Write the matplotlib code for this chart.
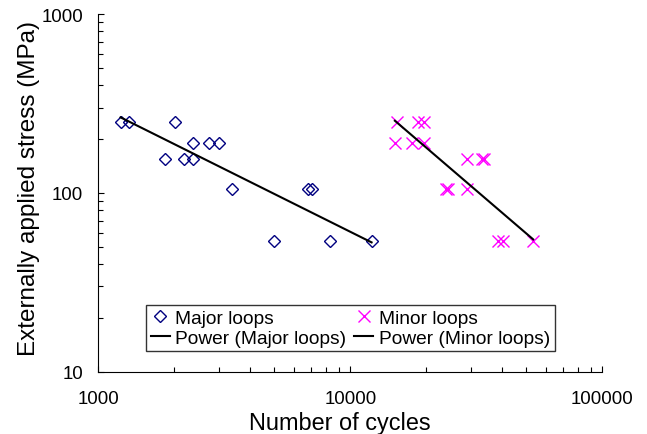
import matplotlib
matplotlib.use("Agg")
import matplotlib.pyplot as plt
import numpy as np

plt.rcParams["font.family"] = ["Liberation Sans", "DejaVu Sans"]

# Major loops: number of cycles vs stress (MPa)
major_cycles = [1225, 1325, 2010, 2365, 2750, 3000, 1835, 2185, 2365,
                3400, 6800, 7050, 4970, 8290, 12140]
major_stress = [250, 250, 250, 190, 190, 190, 155, 155, 155,
                105, 105, 105, 54, 54, 54]

# Minor loops
minor_cycles = [15340, 18480, 19570, 15020, 17490, 19570, 28920, 33170, 33960,
                23930, 24440, 29070, 38380, 40380, 53140]
minor_stress = [250, 250, 250, 190, 190, 190, 155, 155, 155,
                105, 105, 105, 54, 54, 54]


def power_fit(x, y):
    x = np.asarray(x, float)
    y = np.asarray(y, float)
    b, a = np.polyfit(np.log10(x), np.log10(y), 1)
    xs = np.array([x.min(), x.max()])
    return xs, 10 ** a * xs ** b


fig = plt.figure(figsize=(6.47, 4.35), dpi=100)
ax = fig.add_axes([0.152, 0.1432, 0.779, 0.8223])

ax.plot(major_cycles, major_stress, linestyle="none", marker="D", ms=5.8,
        mfc="none", mec="#000080", mew=1.0, label="Major loops")
fx, fy = power_fit(major_cycles, major_stress)
ax.plot(fx, fy, color="black", lw=1.5, label="Power (Major loops)")

ax.plot(minor_cycles, minor_stress, linestyle="none", marker="x", ms=9,
        mec="#FF00FF", mew=1.0, label="Minor loops")
fx, fy = power_fit(minor_cycles, minor_stress)
ax.plot(fx, fy, color="black", lw=1.5, label="Power (Minor loops)")

ax.set_xscale("log")
ax.set_yscale("log")
ax.set_xlim(1000, 100000)
ax.set_ylim(10, 1000)
ax.set_xticks([1000, 10000, 100000], ["1000", "10000", "100000"])
ax.set_yticks([10, 100, 1000], ["10", "100", "1000"])

for side in ["top", "right"]:
    ax.spines[side].set_visible(False)
ax.tick_params(which="both", direction="in", labelsize=13.4)
ax.tick_params(axis="x", which="both", pad=13)
ax.tick_params(axis="y", which="both", pad=11)
ax.tick_params(which="major", length=4.5, width=0.8)
ax.tick_params(which="minor", length=3.5, width=0.8)

ax.set_xlabel("Number of cycles", fontsize=16.9, labelpad=3)
ax.xaxis.label.set_x(0.479)
ax.set_ylabel("Externally applied stress (MPa)", fontsize=17.5, labelpad=1)
ax.yaxis.label.set_y(0.515)

leg = ax.legend(ncol=2, loc="lower left", bbox_to_anchor=(0.094, 0.057),
                fontsize=13.8, frameon=True, fancybox=False, edgecolor="black",
                handlelength=1.0, handletextpad=0.3, columnspacing=0.4,
                borderpad=0.25, labelspacing=0.1, borderaxespad=0)
leg.get_frame().set_linewidth(1.0)

fig.savefig("out.png", dpi=100)
